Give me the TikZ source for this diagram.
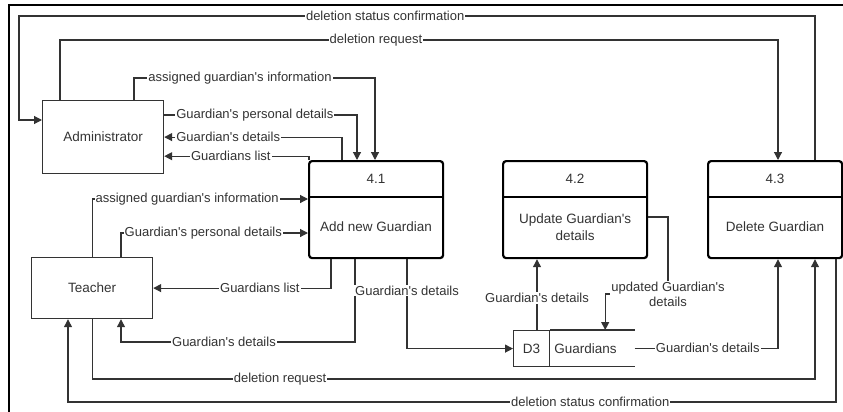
\documentclass[tikz,border=0pt]{standalone}
\usepackage{fontspec}
\setmainfont{Liberation Sans}[Ligatures=TeXOff]
\usetikzlibrary{arrows.meta}
\definecolor{inkgray}{HTML}{333333}
\tikzset{
  ext/.style={draw=inkgray, line width=1.2pt, anchor=north west, text=inkgray,
    font=\fontsize{13.5}{16}\selectfont},
  proc/.style={draw=black, line width=2.2pt, rounded corners=3pt, anchor=north west,
    minimum height=97pt},
  ptext/.style={text=inkgray, align=center, font=\fontsize{13.5}{17}\selectfont},
  flow/.style={draw=inkgray, line width=1.2pt, -{Triangle[length=8pt,width=8pt]}},
  lbl/.style={fill=white, inner sep=1pt, text=inkgray, align=center,
    font=\fontsize{13}{15}\selectfont},
}
\begin{document}
\begin{tikzpicture}[x=1pt,y=-1pt]
\useasboundingbox (0,0) rectangle (843,412);
\draw[black, line width=1.6pt] (9,412) -- (9,5) -- (843,5);

% external entities
\node[ext, minimum width=121pt, minimum height=73pt] (adm) at (42,100) {Administrator};
\node[ext, minimum width=121pt, minimum height=61pt] (tch) at (31,257) {Teacher};

% processes
\node[proc, minimum width=134pt] (p41) at (308,160) {};
\node[proc, minimum width=144pt] (p42) at (502,160) {};
\node[proc, minimum width=134pt] (p43) at (707,160) {};
\foreach \p in {p41,p42,p43}
  \draw[black, line width=2.2pt] ([yshift=-37pt]\p.north west) -- ([yshift=-37pt]\p.north east);
\node[ptext] (p41n) at ([yshift=-18.5pt]p41.north) {4.1};
\node[ptext] (p42n) at ([yshift=-18.5pt]p42.north) {4.2};
\node[ptext] (p43n) at ([yshift=-18.5pt]p43.north) {4.3};
\node[ptext] (p41t) at ([yshift=-67pt]p41.north) {Add new Guardian};
\node[ptext] (p42t) at ([yshift=-67pt]p42.north) {Update Guardian's\\details};
\node[ptext] (p43t) at ([yshift=-67pt]p43.north) {Delete Guardian};

% data store
\node[ext, minimum width=36pt, minimum height=36pt, inner sep=0pt] (d3id) at (513,330) {D3};
\node[anchor=north west, minimum height=36pt, text width=76pt, inner xsep=4pt, align=left,
  text=inkgray, font=\fontsize{13.5}{16}\selectfont] (d3) at (d3id.north east) {Guardians};
\draw[inkgray, line width=1.2pt] (d3.north west) -- (d3.north east) (d3.south west) -- (d3.south east);

% administrator flows
\draw[flow] ([xshift=108pt]p43.north west) |- node[lbl,pos=0.77]{deletion status confirmation} (19,16) |- ([yshift=-20pt]adm.north west);
\draw[flow] ([xshift=18pt]adm.north west) |- node[lbl,pos=0.72]{deletion request} (778,40) -- ([xshift=71pt]p43.north west);
\draw[flow] ([xshift=92pt]adm.north west) |- node[lbl,pos=0.72]{assigned guardian's information} (375,78) -- ([xshift=67pt]p41.north west);
\draw[flow] ([yshift=-15pt]adm.north east) -| node[lbl,pos=0.235]{Guardian's personal details} ([xshift=49pt]p41.north west);
\draw[flow] ([xshift=34pt]p41.north west) |- node[lbl,pos=0.82]{Guardian's details} (adm.east);
\draw[flow] ([xshift=1pt]p41.north west) |- node[lbl,pos=0.77]{Guardians list} ([yshift=18pt]adm.south east);

% teacher flows
\draw[flow] (tch.north) |- node[lbl,pos=0.72]{assigned guardian's information} ([yshift=-39pt]p41.north west);
\draw[flow] ([xshift=90pt]tch.north west) |- node[lbl,pos=0.72]{Guardian's personal details} ([yshift=-73pt]p41.north west);
\draw[flow] ([xshift=23pt]p41.south west) |- node[lbl,pos=0.70]{Guardians list} (tch.east);
\draw[flow] ([xshift=47pt]p41.south west) |- node[lbl,pos=0.78]{Guardian's details} (121,342) -- ([xshift=90pt]tch.south west);
\draw[flow] (tch.south) |- node[lbl,pos=0.63]{deletion request} (815,379) -- ([xshift=108pt]p43.south west);
\draw[flow] ([xshift=129pt]p43.south west) |- node[lbl,pos=0.66]{deletion status confirmation} (68,402) -- ([xshift=37pt]tch.south west);

% data store flows
\draw[flow] ([xshift=99pt]p41.south west) |- node[lbl,pos=0.175]{Guardian's details} (d3id.west);
\draw[flow] ([xshift=24pt]d3id.north west) -- node[lbl,pos=0.45]{Guardian's details} ([xshift=35pt]p42.south west);
\draw[flow] ([yshift=-57pt]p42.north east) -| (668,294) node[lbl]{updated Guardian's\\details} -| ([xshift=55pt]d3.north west);
\draw[flow] (d3.east) -| node[lbl,pos=0.255]{Guardian's details} ([xshift=71pt]p43.south west);
\end{tikzpicture}
\end{document}
